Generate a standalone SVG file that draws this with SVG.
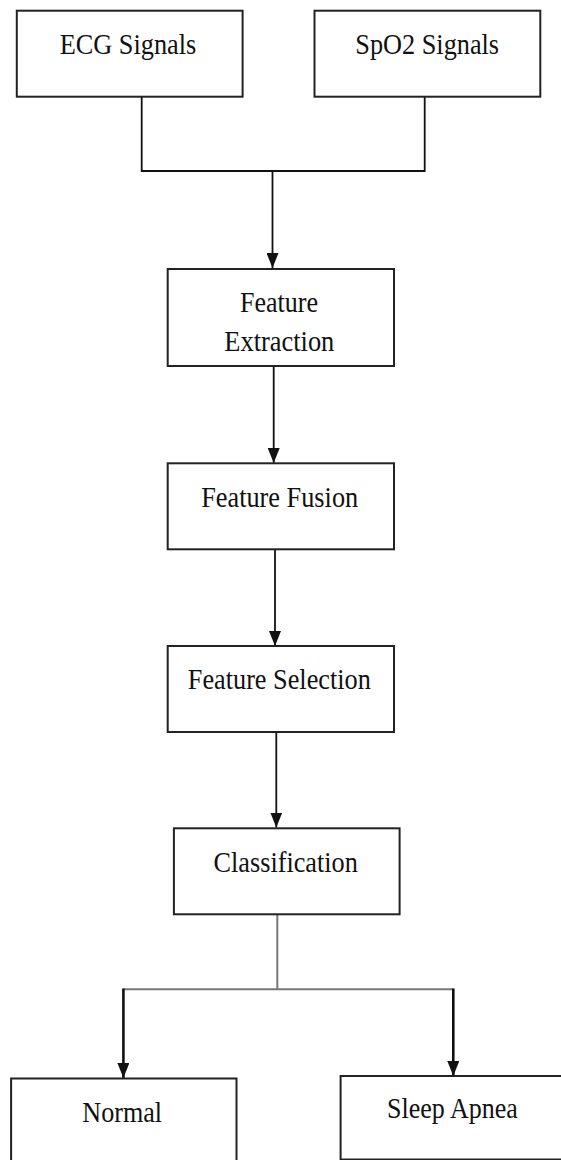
<svg xmlns="http://www.w3.org/2000/svg" width="561" height="1160" viewBox="0 0 561 1160">
<style>
.box{fill:#fff;stroke:#222;stroke-width:2}
.t{font-family:"Liberation Serif","Times New Roman",serif;font-size:30px;fill:#111;text-anchor:middle}
.c{fill:none;stroke:#111;stroke-width:1.8}
.g{fill:none;stroke:#777;stroke-width:2}
.b{fill:none;stroke:#111;stroke-width:2.6}
</style>
<defs>
<marker id="ah" markerUnits="userSpaceOnUse" markerWidth="12" markerHeight="15" refX="6" refY="15" orient="auto-start-reverse" viewBox="0 0 12 15">
<path d="M0,0 L12,0 L6,15 Z" fill="#111" transform="rotate(0)"/>
</marker>
<marker id="ahd" markerUnits="userSpaceOnUse" markerWidth="12" markerHeight="15" refX="6" refY="15" viewBox="0 0 12 15">
<path d="M0,0 L12,0 L6,15 Z" fill="#111"/>
</marker>
</defs>
<rect width="561" height="1160" fill="#fff"/>
<g id="connectors">
<polyline class="c" points="141.7,97 141.7,171 424.7,171 424.7,97"/>
<line class="c" x1="272.5" y1="171" x2="272.5" y2="268" marker-end="url(#ahd)"/>
<line class="c" x1="273.7" y1="366" x2="273.7" y2="463" marker-end="url(#ahd)"/>
<line class="c" x1="275" y1="549" x2="275" y2="646" marker-end="url(#ahd)"/>
<line class="c" x1="276.3" y1="732" x2="276.3" y2="827.5" marker-end="url(#ahd)"/>
<line class="g" x1="277.3" y1="914" x2="277.3" y2="989.3"/>
<line class="g" x1="123.4" y1="989.3" x2="453.3" y2="989.3"/>
<line class="b" x1="123.4" y1="988.5" x2="123.4" y2="1078" marker-end="url(#ahd)"/>
<line class="b" x1="453.3" y1="988.5" x2="453.3" y2="1076" marker-end="url(#ahd)"/>
</g>
<g id="ecg">
<rect class="box" x="16.8" y="10.7" width="225.8" height="86"/>
<text class="t" x="128" y="53.7" textLength="136.7" lengthAdjust="spacingAndGlyphs">ECG Signals</text>
</g>
<g id="spo2">
<rect class="box" x="314.5" y="10.7" width="225.8" height="86"/>
<text class="t" x="427.2" y="53.7" textLength="143.8" lengthAdjust="spacingAndGlyphs">SpO2 Signals</text>
</g>
<g id="extraction">
<rect class="box" x="167.7" y="269" width="226.3" height="97"/>
<text class="t" x="279" y="311.7" textLength="78" lengthAdjust="spacingAndGlyphs">Feature</text>
<text class="t" x="279.3" y="350.7" textLength="110" lengthAdjust="spacingAndGlyphs">Extraction</text>
</g>
<g id="fusion">
<rect class="box" x="167.7" y="463.3" width="226.3" height="86"/>
<text class="t" x="279.7" y="506.7" textLength="157" lengthAdjust="spacingAndGlyphs">Feature Fusion</text>
</g>
<g id="selection">
<rect class="box" x="167.7" y="646" width="226.3" height="86"/>
<text class="t" x="279.3" y="689.3" textLength="183" lengthAdjust="spacingAndGlyphs">Feature Selection</text>
</g>
<g id="classification">
<rect class="box" x="173.9" y="828.3" width="225.7" height="86"/>
<text class="t" x="285.7" y="871.7" textLength="144.2" lengthAdjust="spacingAndGlyphs">Classification</text>
</g>
<g id="normal">
<rect class="box" x="11.1" y="1078.5" width="225.4" height="90"/>
<text class="t" x="122.2" y="1121.7" textLength="79.8" lengthAdjust="spacingAndGlyphs">Normal</text>
</g>
<g id="apnea">
<rect class="box" x="340.6" y="1076" width="240" height="83.5"/>
<text class="t" x="452.4" y="1117.7" textLength="130.6" lengthAdjust="spacingAndGlyphs">Sleep Apnea</text>
</g>
</svg>
